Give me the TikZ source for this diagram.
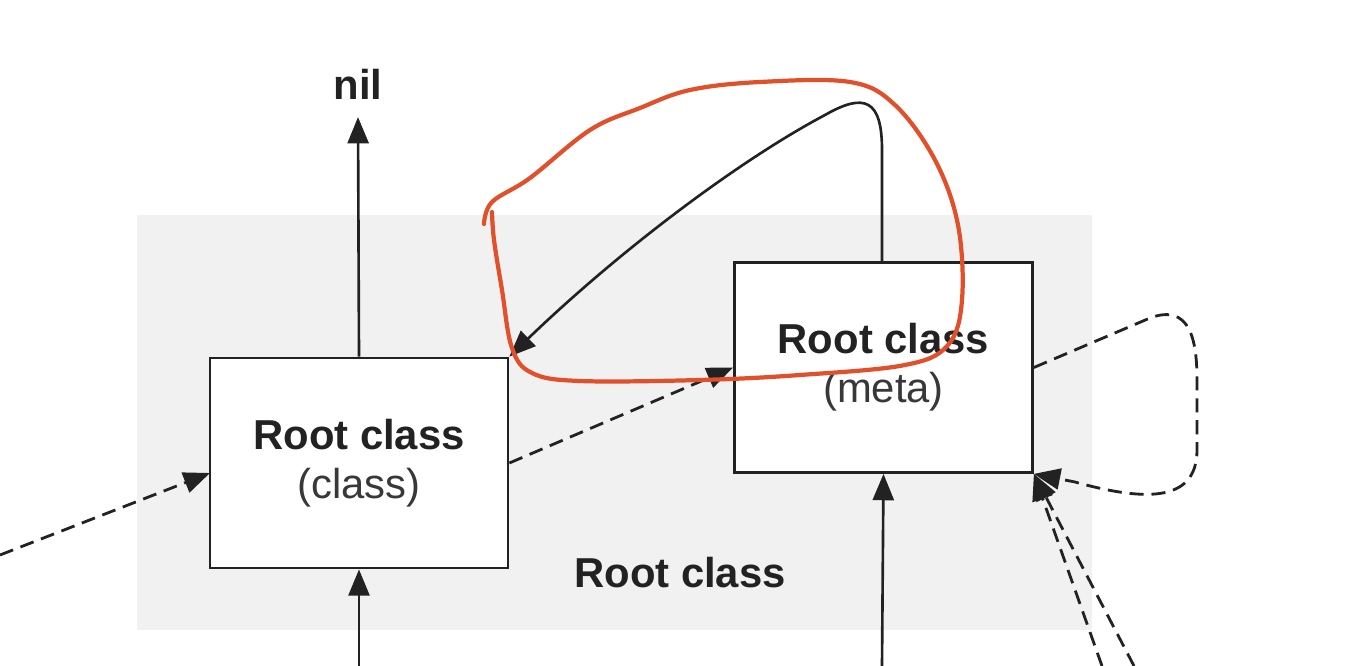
\documentclass[tikz,border=0pt]{standalone}
\usepackage{fontspec}
\setmainfont{Liberation Sans}
\usetikzlibrary{arrows.meta}
\definecolor{bggray}{HTML}{F1F1F1}
\definecolor{ink}{HTML}{222222}
\definecolor{redpen}{HTML}{E0502A}
\tikzset{
  classbox/.style={draw=ink, line width=1.6pt, fill=white, minimum width=5.96cm, minimum height=4.2cm, align=center, inner sep=0pt,
    font=\fontsize{23.8}{30}\selectfont, text=ink},
  conn/.style={draw=ink, line width=1.5pt, -{Triangle[length=15pt,width=12pt]}},
  dconn/.style={conn, line width=1.6pt, dash pattern=on 8pt off 4.5pt},
  lbl/.style={font=\fontsize{23.8}{28}\selectfont\bfseries, text=ink, inner sep=0pt}
}
\begin{document}
\begin{tikzpicture}[x=0.02cm, y=-0.02cm]
\useasboundingbox (0,0) rectangle (1360,666);
\fill[bggray] (137,215) rectangle (1092,630);
\node[classbox] (lclass) at (359,463) {\textbf{Root class}\\[-2pt]{\color{ink!90}(class)}};
\node[classbox] (rmeta) at (883.5,367.5) {\textbf{Root class}\\[-2pt]{\color{ink!90}(meta)}};
\node[lbl] (nil) at (358,84) {nil};
\node[lbl] (rootlbl) at (680,573) {Root class};
\coordinate (lin) at (0,555);
\coordinate (lbot) at (359,666);
\coordinate (rbot) at (882,666);
\coordinate (db1) at (1102,666);
\coordinate (db2) at (1134,666);
\coordinate (ltip) at (210,473);
\coordinate (rtop) at (882,263);
% solid arrows
\draw[conn] (lclass.north) -- ([yshift=-10pt]nil.south);
\draw[conn] (lbot) -- (lclass.south);
\draw[conn] (rbot) -- (rmeta.south);
\draw[conn] (rtop) -- (882,150) .. controls (882,100) and (865,92) .. (825,115) .. controls (740,160) and (620,250) .. (lclass.north east);
% dashed arrows
\draw[dconn] (lin) -- (ltip);
\draw[dconn] (lclass.east) -- (rmeta.west);
\draw[dconn] (rmeta.east) -- (1150,318) .. controls (1190,303) and (1197,340) .. (1197,380) -- (1197,450) .. controls (1197,505) and (1140,500) .. (1075,482) -- (rmeta.south east);
\draw[dconn] (db1) -- (rmeta.south east);
\draw[dconn] (db2) -- (rmeta.south east);
% red hand-drawn loop
\draw[redpen, line width=2.4pt, line cap=round, line join=round] plot[smooth, tension=0.6] coordinates {
 (484,224) (492,202) (530,178) (590,130) (640,108) (690,90) (760,82) (850,82) (895,105) (935,160) (958,225) (962,300) (948,345) (905,365) (800,375) (700,380) (580,381) (532,373) (512,348) (502,290) (494,240) (492,212)};
\end{tikzpicture}
\end{document}
